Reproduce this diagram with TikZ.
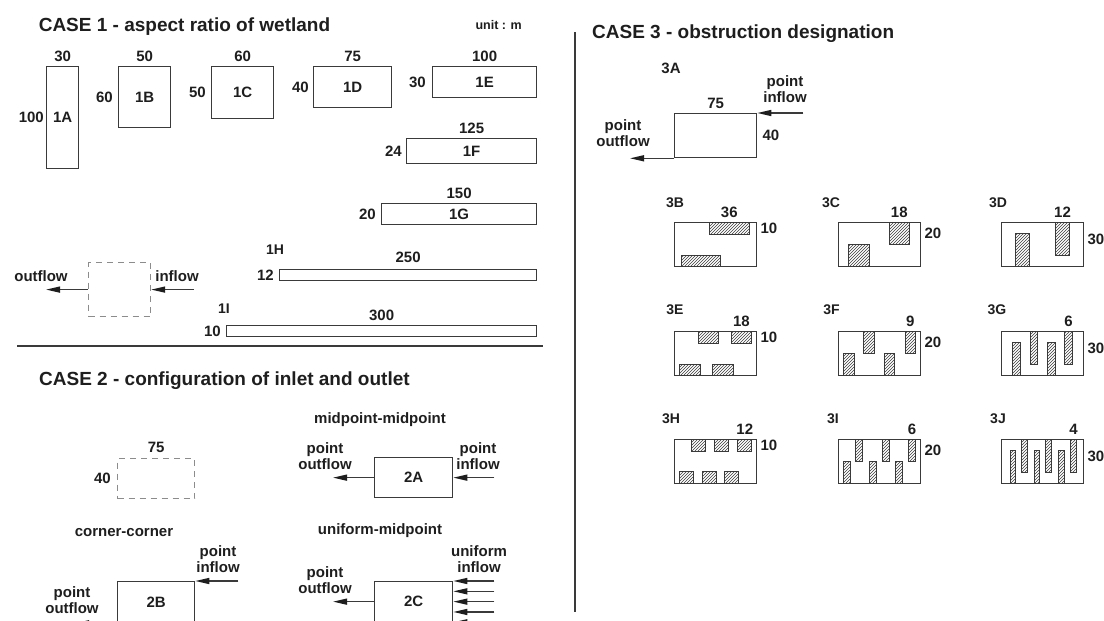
\documentclass[tikz,border=0pt]{standalone}
\usepackage{fontspec}
\setmainfont{Liberation Sans}
\usepackage{tikz}
\usetikzlibrary{arrows.meta,positioning,calc,patterns}
\usepackage{xcolor}
\definecolor{WetInk}{HTML}{1E1E1E}
\definecolor{WetLine}{HTML}{3A3A3A}
\definecolor{WetDash}{HTML}{8C8C8C}
\newcommand{\lblsize}{\fontsize{15}{16}\selectfont\bfseries}
\newcommand{\tagsize}{\fontsize{14}{15}\selectfont\bfseries}
\newcommand{\ttlsize}{\fontsize{19}{22}\selectfont\bfseries}

\begin{document}
\begin{tikzpicture}[x=1pt, y=-1pt, node distance=4pt,
    every node/.style={font=\lblsize, text=WetInk, inner sep=0pt},
    pond/.style={draw=WetLine, line width=1.3pt, anchor=north west},
    ghost/.style={draw=WetDash, line width=1.2pt, dash pattern=on 6pt off 5pt, anchor=north west},
    block/.style={draw=WetLine, line width=0.9pt, pattern=north east lines, pattern color=WetLine, anchor=north west},
    flow/.style={-{Triangle[length=14pt,width=6pt,color=WetInk]}, line width=1.4pt, draw=WetLine},
    heading/.style={font=\ttlsize, anchor=base west},
    tag/.style={font=\tagsize},
    twoline/.style={align=center}]
  \useasboundingbox (0,0) rectangle (1104,621);
  \clip (0,0) rectangle (1104,621);

  % CASE 1
  \node[heading] (t1) at (38.6,31.4) {CASE 1 - aspect ratio of wetland};
  \node[font=\fontsize{12.5}{14}\selectfont\bfseries, anchor=base east] (unit) at (522,30) {unit : m};

  \node[pond, minimum width=32pt, minimum height=102pt] (b1A) at (46,66) {1A};
  \node[above=of b1A] (w1A) {30};
  \node[left=2pt of b1A] (h1A) {100};
  \node[pond, minimum width=52pt, minimum height=61pt] (b1B) at (118,66) {1B};
  \node[above=of b1B] (w1B) {50};
  \node[left=5pt of b1B] (h1B) {60};
  \node[pond, minimum width=62pt, minimum height=52pt] (b1C) at (211,66) {1C};
  \node[above=of b1C] (w1C) {60};
  \node[left=5pt of b1C] (h1C) {50};
  \node[pond, minimum width=78pt, minimum height=41pt] (b1D) at (313,66) {1D};
  \node[above=of b1D] (w1D) {75};
  \node[left=4pt of b1D] (h1D) {40};
  \node[pond, minimum width=104pt, minimum height=31pt] (b1E) at (432,66) {1E};
  \node[above=of b1E] (w1E) {100};
  \node[left=6pt of b1E] (h1E) {30};
  \node[pond, minimum width=130pt, minimum height=25pt] (b1F) at (406,138) {1F};
  \node[above=of b1F] (w1F) {125};
  \node[left=4pt of b1F] (h1F) {24};
  \node[pond, minimum width=155pt, minimum height=21pt] (b1G) at (381,203) {1G};
  \node[above=of b1G] (w1G) {150};
  \node[left=5pt of b1G] (h1G) {20};
  \node[pond, minimum width=257pt, minimum height=11pt] (b1H) at (279,269) {};
  \node[above=6pt of b1H] (w1H) {250};
  \node[left=5pt of b1H] (h1H) {12};
  \node[tag] (n1H) at (275,249.6) {1H};
  \node[pond, minimum width=310pt, minimum height=11pt] (b1I) at (226,325) {};
  \node[above=of b1I] (w1I) {300};
  \node[left=5pt of b1I] (h1I) {10};
  \node[tag] (n1I) at (224,308.6) {1I};

  \node[ghost, minimum width=62pt, minimum height=54pt] (g1) at (88,262) {};
  \coordinate[left=42pt of g1.west] (g1out);
  \coordinate[right=43pt of g1.east] (g1in);
  \draw[flow] (g1.west) -- (g1out);
  \draw[flow] (g1in) -- (g1.east);
  \node (lo1) at (41,276) {outflow};
  \node (li1) at (177,276) {inflow};

  % separators
  \draw[line width=2.2pt, WetLine] (17,346) -- (543,346);
  \draw[line width=2pt, WetLine] (575,32) -- (575,612);

  % CASE 2
  \node[heading] (t2) at (39,385) {CASE 2 - configuration of inlet and outlet};
  \node[ghost, minimum width=77pt, minimum height=40pt] (g2) at (117,458) {};
  \node[above=5pt of g2] (w2) {75};
  \node[left=6pt of g2] (h2) {40};

  \node (cc) at (124,533) {corner-corner};
  \node[pond, minimum width=77pt, minimum height=41pt] (b2B) at (117,581) {2B};
  \coordinate[right=43pt of b2B.north east] (i2B);
  \coordinate[left=42pt of b2B.south west] (o2B);
  \draw[flow] (i2B) -- (b2B.north east);
  \draw[flow] (b2B.south west) -- (o2B);
  \node[twoline] (li2B) at (218,559.5) {point\\inflow};
  \node[twoline] (lo2B) at (72,600) {point\\outflow};

  \node (mm) at (380,420) {midpoint-midpoint};
  \node[pond, minimum width=78pt, minimum height=40pt] (b2A) at (374,457) {2A};
  \coordinate[left=41pt of b2A.west] (o2A);
  \coordinate[right=41pt of b2A.east] (i2A);
  \draw[flow] (b2A.west) -- (o2A);
  \draw[flow] (i2A) -- (b2A.east);
  \node[twoline] (lo2A) at (325,456) {point\\outflow};
  \node[twoline] (li2A) at (478,456) {point\\inflow};

  \node (um) at (380,531) {uniform-midpoint};
  \node[pond, minimum width=78pt, minimum height=40pt] (b2C) at (374,581) {2C};
  \coordinate[left=41pt of b2C.west] (o2C);
  \draw[flow] (b2C.west) -- (o2C);
  \foreach \k in {0,...,4} {
    \coordinate (e\k) at ($(b2C.north east)!\k/4!(b2C.south east)$);
    \coordinate (u\k) at ($(e\k)+(41,0)$);
    \draw[flow] (u\k) -- (e\k);
  }
  \node[twoline] (lo2C) at (325,580) {point\\outflow};
  \node[twoline] (li2C) at (479,559) {uniform\\inflow};

  % CASE 3
  \node[heading] (t3) at (592,38) {CASE 3 - obstruction designation};
  \node (n3A) at (671,68) {3A};
  \node[pond, minimum width=82pt, minimum height=44pt] (b3A) at (674,113) {};
  \node[above=of b3A] (w3A) {75};
  \node[right=5pt of b3A] (h3A) {40};
  \coordinate[right=46pt of b3A.north east] (i3A);
  \coordinate[left=44pt of b3A.south west] (o3A);
  \draw[flow] (i3A) -- (b3A.north east);
  \draw[flow] (b3A.south west) -- (o3A);
  \node[twoline] (li3A) at (785,89.5) {point\\inflow};
  \node[twoline] (lo3A) at (623,133) {point\\outflow};

  % name/box x/box y/tag x/tag y/obstruction w/h/width label/height label/count/tops/bottoms
  \foreach \nm/\bx/\by/\lx/\ly/\ow/\oh/\wl/\hl/\nt/\tops/\bots in {
      3B/674/222/675/203/39.6/11.5/36/10/1/{35}/{6.7},
      3C/838/222/831/203/20.5/22/18/20/1/{50.6}/{10},
      3D/1001/222/998/203/13.5/33/12/30/1/{54.3}/{14.3},
      3E/674/331/675/310/20.5/11.5/18/10/2/{23.7,56.7}/{5,38.3},
      3F/838/331/831.5/310/10.5/22/9/20/2/{25,66.6}/{5,45.6},
      3G/1001/331/997/310/7.5/33/6/30/2/{28.6,63.3}/{11,46},
      3H/674/439/671/419/14/12/12/10/3/{17,40,63.3}/{5,28.3,50.3},
      3I/838/439/833/419/7/22/6/20/3/{17.3,44,70}/{5,31.3,57.3},
      3J/1001/439/998/419/5.5/33/4/30/3/{20.3,44.3,69.3}/{8.6,32.6,57}} {
    \node[pond, minimum width=82pt, minimum height=44pt] (b\nm) at (\bx,\by) {};
    \node[tag] (n\nm) at (\lx,\ly) {\nm};
    \foreach \t [count=\i] in \tops
      \node[block, minimum width=\ow pt, minimum height=\oh pt] (t\nm\i) at ($(b\nm.north west)+(\t,0)$) {};
    \foreach \t [count=\i] in \bots
      \node[block, anchor=south west, minimum width=\ow pt, minimum height=\oh pt] (s\nm\i) at ($(b\nm.south west)+(\t,0)$) {};
    \node[above=of t\nm\nt] (w\nm) {\wl};
    \node[anchor=west] (h\nm) at ([xshift=3pt]b\nm.east |- t\nm\nt.center) {\hl};
  }
\end{tikzpicture}
\end{document}
